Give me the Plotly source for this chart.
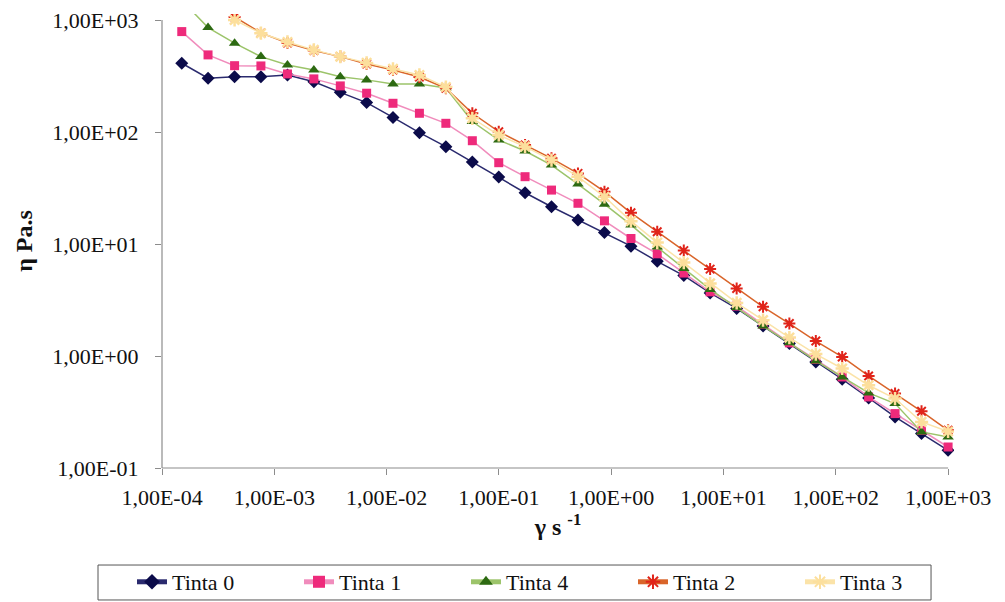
import plotly.graph_objects as go

# Shear rate (s^-1)
shear_rate = [1.50e-4, 2.57e-4, 4.43e-4, 7.60e-4, 1.31e-3, 2.25e-3, 3.87e-3, 6.64e-3,
              1.14e-2, 1.96e-2, 3.37e-2, 5.80e-2, 9.97e-2, 0.171, 0.294, 0.506,
              0.871, 1.50, 2.57, 4.43, 7.60, 13.1, 22.5, 38.6, 66.4, 114,
              196, 337, 580, 1000]

tinta0 = [411, 302, 312, 312, 323, 281, 226, 183, 135, 98.6, 74, 54, 39.6, 28.7, 21.5,
          16.4, 12.7, 9.57, 7.0, 5.22, 3.66, 2.66, 1.85, 1.29, 0.886, 0.62, 0.422,
          0.286, 0.203, 0.144]
tinta1 = [788, 488, 391, 389, 330, 298, 258, 222, 180.5, 147, 119.6, 83.6, 53.2, 39.9,
          30.3, 23.1, 16.1, 11.2, 8.17, 5.5, 3.74, 2.79, 1.92, 1.31, 0.93, 0.65, 0.431,
          0.306, 0.217, 0.154]
tinta4 = [1500, 855, 621, 471, 397, 358, 312, 292, 268, 268, 247, 124, 84.8, 67.6, 50.7,
          34.3, 22.7, 14.8, 9.38, 6.05, 3.93, 2.71, 1.85, 1.31, 0.904, 0.65, 0.468,
          0.376, 0.21, 0.189]
tinta2 = [None, None, 1066, 767, 624, 533, 471, 405, 358, 310, 246, 147, 100.6, 76.5,
          58.2, 42.7, 29.3, 19.0, 12.85, 8.73, 5.97, 4.01, 2.75, 1.95, 1.36, 0.98,
          0.664, 0.462, 0.321, 0.217]
tinta3 = [None, None, 1000, 762, 637, 541, 471, 414, 366, 323, 252, 132.6, 94, 74, 56.2,
          39.9, 26.4, 16.0, 10.3, 6.82, 4.45, 2.98, 2.09, 1.46, 1.04, 0.773, 0.548,
          0.417, 0.258, 0.212]

x_tickvals = [1e-4, 1e-3, 1e-2, 1e-1, 1e0, 1e1, 1e2, 1e3]
x_ticktext = ["1,00E-04", "1,00E-03", "1,00E-02", "1,00E-01", "1,00E+00",
              "1,00E+01", "1,00E+02", "1,00E+03"]
y_tickvals = [1e-1, 1e0, 1e1, 1e2, 1e3]
y_ticktext = ["1,00E-01", "1,00E+00", "1,00E+01", "1,00E+02", "1,00E+03"]

FONT = "Liberation Serif"

series = [
    ("Tinta 0", tinta0, "#2a2a6e", 1.5, "#0b0b4a", "diamond", 10, None),
    ("Tinta 1", tinta1, "#f08cbc", 1.5, "#ee2a7b", "square", 9, None),
    ("Tinta 4", tinta4, "#9cc46a", 1.5, "#2d6a12", "triangle-up", 10, None),
    ("Tinta 2", tinta2, "#d9652a", 1.5, "#e0241a", "asterisk-open", 10, 2),
    ("Tinta 3", tinta3, "#fbe3a8", 1.5, "#fcdf9c", "asterisk-open", 11, 2.5),
]

fig = go.Figure()
for name, vals, lcol, lw, mcol, sym, ms, mlw in series:
    marker = dict(symbol=sym, size=ms, color=mcol)
    if mlw is not None:
        marker["line"] = dict(color=mcol, width=mlw)
    else:
        marker["line"] = dict(width=0)
    fig.add_trace(go.Scatter(
        x=shear_rate, y=vals, name=name, mode="lines+markers",
        line=dict(color=lcol, width=lw), marker=marker,
        connectgaps=False, cliponaxis=True,
    ))

axis_gray = "#8c8c8c"
fig.update_xaxes(
    type="log", range=[-4, 3.0526], tickvals=x_tickvals, ticktext=x_ticktext,
    showgrid=False, zeroline=False, showline=False,
    ticks="outside", ticklen=6, tickcolor=axis_gray, tickwidth=1,
    tickfont=dict(family=FONT, size=22, color="#111"),
    ticklabelstandoff=4,
    title=dict(text="<b>γ s <sup>-1</sup></b>", font=dict(family=FONT, size=24, color="#111"),
               standoff=2),
)
fig.update_yaxes(
    type="log", range=[-1, 3.0536], tickvals=y_tickvals, ticktext=y_ticktext,
    showgrid=False, zeroline=False, showline=False,
    ticks="outside", ticklen=6, tickcolor=axis_gray, tickwidth=1,
    tickfont=dict(family=FONT, size=22, color="#111"),
    ticklabelstandoff=12,
    title=dict(text="<b>η Pa.s</b>", font=dict(family=FONT, size=24, color="#111"),
               standoff=12),
)

# axis lines spanning exactly the labelled decades (data units)
fig.add_shape(type="line", xref="x", yref="paper", x0=x_tickvals[0], x1=x_tickvals[-1],
              y0=0, y1=0, line=dict(color=axis_gray, width=1.2))
fig.add_shape(type="line", xref="paper", yref="y", x0=0, x1=0,
              y0=y_tickvals[0], y1=y_tickvals[-1], line=dict(color=axis_gray, width=1.2))
# legend frame
fig.add_shape(type="rect", xref="paper", yref="paper",
              x0=-0.0808, x1=0.971, y0=-0.2907, y1=-0.2137,
              line=dict(color="#555", width=1), fillcolor="rgba(0,0,0,0)")

fig.update_layout(
    width=1005, height=602,
    margin=dict(l=162, r=51, t=14, b=134, autoexpand=False),
    paper_bgcolor="white", plot_bgcolor="white",
    showlegend=True,
    legend=dict(
        orientation="h", x=-0.0379, xanchor="left", y=-0.2048, yanchor="top",
        entrywidth=122, entrywidthmode="pixels",
        font=dict(family=FONT, size=22, color="#111"),
        borderwidth=0, bgcolor="rgba(0,0,0,0)",
        itemsizing="constant", tracegroupgap=0,
    ),
)

fig.write_html("out.html", config={"displayModeBar": False},
               post_script="document.body.style.margin='0px';document.body.style.padding='0px';document.body.style.overflow='hidden';")
